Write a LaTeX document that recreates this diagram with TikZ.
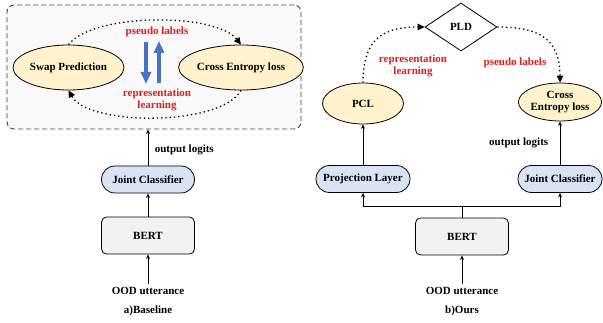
\documentclass[tikz,border=0pt]{standalone}
\usepackage{fontspec}
\setmainfont{Liberation Serif}
\usetikzlibrary{arrows.meta, positioning, shapes.geometric}
\definecolor{lossfill}{HTML}{FFF2CC}
\definecolor{clsfill}{HTML}{DAE3F3}
\definecolor{bertfill}{HTML}{F2F2F2}
\definecolor{boxfill}{HTML}{F9F9F9}
\definecolor{note}{HTML}{E01E1E}
\definecolor{flow}{HTML}{4472C4}
\tikzset{
  lossnode/.style={ellipse, draw, fill=lossfill, inner sep=0pt, line width=0.8pt},
  pillnode/.style={rectangle, rounded corners=13.5pt, draw, fill=clsfill,
    minimum height=27pt, inner sep=0pt, line width=0.8pt},
  bertnode/.style={rectangle, rounded corners=5pt, draw, fill=bertfill,
    minimum width=93pt, minimum height=37pt, line width=0.8pt},
  loopbox/.style={rectangle, rounded corners=7pt, draw=black!75, fill=boxfill,
    dash pattern=on 5pt off 3pt, line width=0.9pt,
    minimum width=294pt, minimum height=124pt},
  redtext/.style={text=note, align=center},
  feed/.style={-{Stealth[length=4.5pt,width=4pt]}, line width=0.9pt},
  loopline/.style={dash pattern=on 1.3pt off 3pt, line width=1.3pt,
    -{Triangle[length=7pt,width=6.5pt]}},
  thickflow/.style={flow, line width=4.5pt, -{Triangle[length=12pt,width=10pt]}}
}

\begin{document}
\begin{tikzpicture}[x=1pt, y=1pt, font=\fontsize{11}{12}\selectfont\bfseries]
  \useasboundingbox (0,0) rectangle (603,-323);
  % a) Baseline
  \node[loopbox] (loop) at (154,-67) {};
  \node[lossnode, minimum width=111pt, minimum height=45pt] (swap) at (68.5,-67.5) {Swap Prediction};
  \node[lossnode, minimum width=112pt, minimum height=45pt] (celossA) at (241,-67.5) {Cross Entropy loss};
  \node[redtext] (pseudoA) at (157,-32) {pseudo labels};
  \node[redtext] (replA) at (157,-100) {representation\\learning};
  % Swap arrows
  \draw[thickflow] (146,-42) -- (146,-84);
  \draw[thickflow] (159,-83) -- (159,-41);
  \draw[loopline] (swap.north) .. controls +(25,32) and +(-25,32) .. (celossA.north);
  \draw[loopline] (celossA.south) .. controls +(-20,-36) and +(20,-36) .. (swap.south);
  \node[pillnode, minimum width=93pt] (jcA) at (148,-179.5) {Joint Classifier};
  \node[bertnode] (bertA) at (148,-235.5) {BERT};
  \node (oodA) at (148,-291) {OOD utterance};
  \node (capA) at (148,-311) {a)Baseline};
  \draw[feed] (oodA) -- (bertA);
  \draw[feed] (bertA) -- (jcA);
  \draw[feed] (jcA.north) -- (jcA.north |- loop.south)
    node[pos=0.43, right=3pt] {output logits};

  % b) Ours
  \node[diamond, draw, line width=0.8pt, minimum width=72pt, minimum height=48pt,
    inner sep=0pt] (pld) at (461,-27) {PLD};
  \node[lossnode, minimum width=81pt, minimum height=41pt] (pcl) at (363,-103.5) {PCL};
  \node[lossnode, minimum width=81pt, minimum height=38pt, align=center] (celossB)
    at (560,-102) {Cross\\Entropy loss};
  \node[redtext] (replB) at (413,-66) {representation\\learning};
  \node[redtext] (pseudoB) at (515,-63) {pseudo labels};
  \draw[loopline] (pcl.north) .. controls +(0,45) and +(-40,0) .. (pld.west);
  \draw[loopline] (pld.east) .. controls +(40,0) and +(0,45) .. (celossB.north);
  \node[pillnode, minimum width=94pt] (proj) at (363,-179) {Projection Layer};
  \node[pillnode, minimum width=84pt] (jcB) at (560,-179) {Joint Classifier};
  \node[bertnode] (bertB) at (462,-236.5) {BERT};
  \node (oodB) at (462,-291) {OOD utterance};
  \node (capB) at (462,-311) {b)Ours};
  \draw[feed] (oodB) -- (bertB);
  \draw[line width=0.9pt] (bertB.north) -- ++(0,11) coordinate (split);
  \draw[feed] (split) -| (proj.south);
  \draw[feed] (split) -| (jcB.south);
  \draw[feed] (proj) -- (pcl);
  \draw[feed] (jcB) -- (celossB) node[midway, left=8pt] {output logits};
\end{tikzpicture}
\end{document}
